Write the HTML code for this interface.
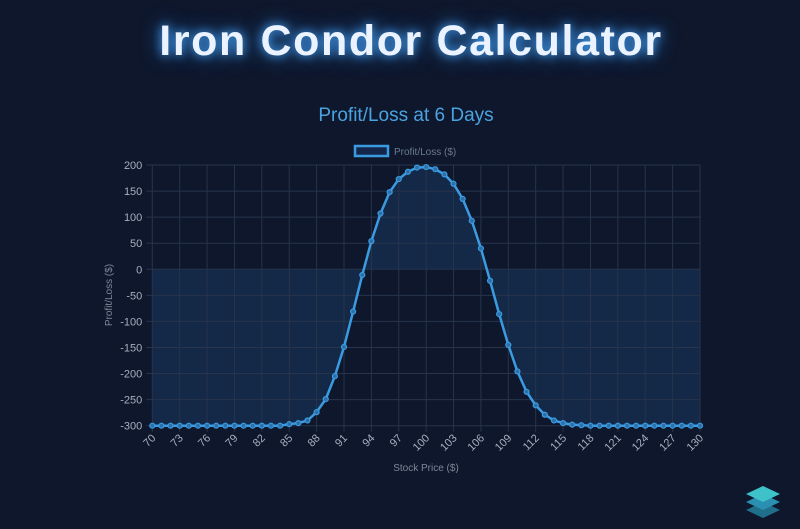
<!DOCTYPE html>
<html><head><meta charset="utf-8"><style>
html,body{margin:0;padding:0;background:#0e172c;width:800px;height:529px;overflow:hidden}
#title{position:absolute;top:17px;left:11px;width:800px;text-align:center;font:bold 43px "Liberation Sans",sans-serif;color:#eaf3ff;text-shadow:0 0 10px #4aa8ff,0 0 20px #2f7fd0;letter-spacing:1.6px}
svg{position:absolute;left:0;top:0}
</style></head><body>
<div id="title">Iron Condor Calculator</div>
<svg id="chart" width="800" height="529"></svg>
<script>
const prices=[];for(let p=70;p<=130;p++)prices.push(p);
const plValues=[-300,-300,-300,-300,-300,-300,-300,-300,-300,-300,-300,-300,-300,-300,-300,-297,-295,-290,-274,-249,-205,-149,-81,-11,54,107,148,173,187,195,196,192,182,164,135,93,40,-22,-86,-145,-196,-235,-261,-279,-290,-295,-298,-299,-300,-300,-300,-300,-300,-300,-300,-300,-300,-300,-300,-300,-300];
const yTicks=[200,150,100,50,0,-50,-100,-150,-200,-250,-300];
const xTicks=[70,73,76,79,82,85,88,91,94,97,100,103,106,109,112,115,118,121,124,127,130];
const NS='http://www.w3.org/2000/svg';
const svg=document.getElementById('chart');
const L=152.3,R=700,T=165,B=425.7;
const xs=v=>L+(v-70)/60*(R-L);
const ys=v=>T+(200-v)/500*(B-T);
function mk(t,a){const e=document.createElementNS(NS,t);for(const k in a)e.setAttribute(k,a[k]);svg.appendChild(e);return e;}
let e;
e=mk('text',{x:406,y:121,'text-anchor':'middle','font-family':'Liberation Sans,sans-serif','font-size':19,fill:'#4aa3e0'});e.textContent='Profit/Loss at 6 Days';


e=mk('rect',{x:355,y:146,width:33,height:10,fill:'rgba(59,130,246,0.15)',stroke:'#3b9be0','stroke-width':2.5});


e=mk('text',{x:394,y:155,'font-family':'Liberation Sans,sans-serif','font-size':10,fill:'#6b7a90'});e.textContent='Profit/Loss ($)';


let d='M'+xs(prices[0])+','+ys(0);
prices.forEach((p,i)=>{d+=' L'+xs(p)+','+ys(plValues[i]);});
d+=' L'+xs(prices[prices.length-1])+','+ys(0)+' Z';
e=mk('path',{d:d,fill:'#152a4a','fill-opacity':0.9});


yTicks.forEach(v=>{
 e=mk('line',{x1:L-6,x2:R,y1:ys(v),y2:ys(v),stroke:'#27344b','stroke-width':1});
 
 
 e=mk('text',{x:L-10,y:ys(v)+4,'text-anchor':'end','font-family':'Liberation Sans,sans-serif','font-size':11,fill:'#a6b0c0'});e.textContent=v;
 
 
});
xTicks.forEach(v=>{
 e=mk('line',{x1:xs(v),x2:xs(v),y1:T,y2:B+6,stroke:'#27344b','stroke-width':1});
 
 
 const x=xs(v)+4,y=B+13;
 e=mk('text',{x:x,y:y,'text-anchor':'end','font-family':'Liberation Sans,sans-serif','font-size':11,fill:'#a6b0c0',transform:'rotate(-45 '+x+' '+y+')'});e.textContent=v;
 
 
});
let ld='';prices.forEach((p,i)=>{ld+=(i?' L':'M')+xs(p)+','+ys(plValues[i]);});
e=mk('path',{d:ld,fill:'none',stroke:'#3b9be0','stroke-width':2.5,'stroke-linejoin':'round'});


prices.forEach((p,i)=>{
 e=mk('circle',{cx:xs(p),cy:ys(plValues[i]),r:2.5,fill:'#2d6fa8',stroke:'#3b9be0','stroke-width':1.2});
 
 
});
e=mk('text',{x:112,y:295,'text-anchor':'middle','font-family':'Liberation Sans,sans-serif','font-size':10,fill:'#7d8799',transform:'rotate(-90 112 295)'});e.textContent='Profit/Loss ($)';


e=mk('text',{x:426,y:471,'text-anchor':'middle','font-family':'Liberation Sans,sans-serif','font-size':10,fill:'#7d8799'});e.textContent='Stock Price ($)';


const g=mk('g',{});


[[510,'#1f6f8a'],[502,'#2a8fb0'],[494,'#3fc1c9']].forEach(([y,c])=>{
 const p=document.createElementNS(NS,'path');p.setAttribute('d','M763 '+(y-8)+' L780 '+y+' L763 '+(y+8)+' L746 '+y+' Z');p.setAttribute('fill',c);g.appendChild(p);
});
</script>
</body></html>
